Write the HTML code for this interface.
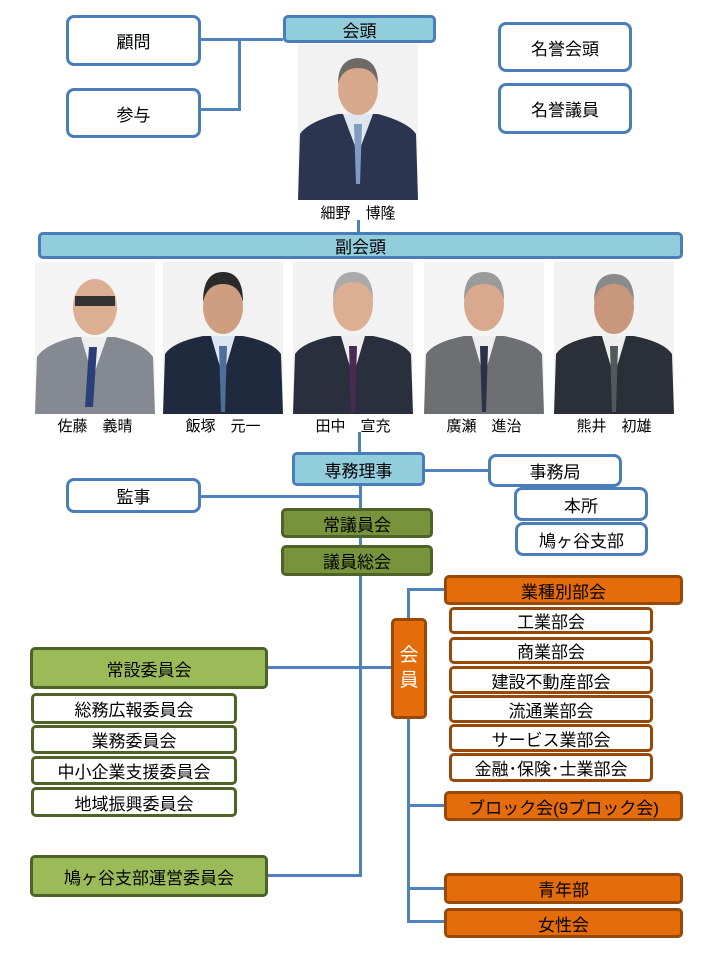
<!DOCTYPE html>
<html><head><meta charset="utf-8">
<style>
body{margin:0;width:720px;height:960px;background:#fff;position:relative;overflow:hidden;font-family:"Liberation Sans","Noto Sans CJK JP",sans-serif;}
.b{position:absolute;box-sizing:border-box;display:flex;align-items:center;justify-content:center;font-size:17px;color:#000;border-radius:5px;white-space:nowrap;}
.w{border:3px solid #4a7ebb;background:#fff;border-radius:8px;}
.lb{border:3px solid #4a7ebb;background:#92cddc;}
.dg{border:3px solid #4f6228;background:#77933c;}
.lg{border:3px solid #4f6228;background:#9bbb59;}
.gw{border:3px solid #4f6228;background:#fff;}
.or{border:3px solid #984807;background:#e46c0a;}
.ow{border:3px solid #984807;background:#fff;}
.l{position:absolute;background:#4f81bd;}
.n{position:absolute;font-size:15px;text-align:center;width:120px;}
svg.p{position:absolute;}
</style></head><body>
<div class="l" style="left:200px;top:38px;width:83px;height:3px"></div>
<div class="l" style="left:238px;top:38px;width:3px;height:73px"></div>
<div class="l" style="left:200px;top:108px;width:40px;height:3px"></div>
<div class="l" style="left:357px;top:220px;width:3px;height:14px"></div>
<div class="l" style="left:358px;top:432px;width:3px;height:24px"></div>
<div class="l" style="left:359px;top:485px;width:3px;height:392px"></div>
<div class="l" style="left:424px;top:469px;width:70px;height:3px"></div>
<div class="l" style="left:200px;top:495px;width:161px;height:3px"></div>
<div class="l" style="left:267px;top:666px;width:126px;height:3px"></div>
<div class="l" style="left:267px;top:874px;width:94px;height:3px"></div>
<div class="l" style="left:407px;top:588px;width:3px;height:335px"></div>
<div class="l" style="left:407px;top:588px;width:38px;height:3px"></div>
<div class="l" style="left:407px;top:804px;width:38px;height:3px"></div>
<div class="l" style="left:407px;top:887px;width:38px;height:3px"></div>
<div class="l" style="left:407px;top:920px;width:38px;height:3px"></div>

<div class="b w" style="left:66px;top:15px;width:135px;height:51px">顧問</div>
<div class="b w" style="left:66px;top:88px;width:135px;height:50px">参与</div>
<div class="b lb" style="left:283px;top:15px;width:153px;height:28px">会頭</div>
<div class="b w" style="left:498px;top:22px;width:134px;height:50px">名誉会頭</div>
<div class="b w" style="left:498px;top:83px;width:134px;height:51px">名誉議員</div>

<svg class="p" style="left:298px;top:44px" width="120" height="156" viewBox="0 0 120 156">
<rect width="120" height="156" fill="#f2f2f2"/>
<path d="M0 156 L2 90 Q10 78 40 70 L80 70 Q110 78 118 90 L120 156Z" fill="#2b3550"/>
<path d="M45 70 L60 110 L75 70Z" fill="#dfe6ee"/>
<path d="M56 80 L64 80 L62 140 L58 140Z" fill="#7f9cc4"/>
<ellipse cx="60" cy="45" rx="20" ry="26" fill="#d7a88b"/>
<path d="M40 40 Q40 15 60 14 Q80 15 80 40 Q76 24 60 24 Q44 24 40 40Z" fill="#6d6a68"/>
</svg>
<div class="n" style="left:298px;top:202px">細野　博隆</div>

<div class="b lb" style="left:38px;top:232px;width:645px;height:27px">副会頭</div>

<svg class="p" style="left:35px;top:262px" width="120" height="152" viewBox="0 0 120 152"><rect width="120" height="152" fill="#f4f4f4"/><path d="M0 152 L2 95 Q10 82 40 75 L80 75 Q110 82 118 95 L120 152Z" fill="#858a92"/><path d="M46 75 L58 115 L72 75Z" fill="#eee"/><path d="M54 85 L62 85 L58 145 L50 145Z" fill="#2b3f78"/><ellipse cx="60" cy="45" rx="22" ry="28" fill="#dcae92"/><rect x="40" y="34" width="40" height="10" fill="#333"/></svg>
<svg class="p" style="left:163px;top:262px" width="120" height="152" viewBox="0 0 120 152"><rect width="120" height="152" fill="#f2f2f2"/><path d="M0 152 L2 92 Q10 80 40 74 L80 74 Q110 80 118 92 L120 152Z" fill="#1f2a3e"/><path d="M48 74 L60 115 L72 74Z" fill="#dde6f0"/><path d="M56 84 L64 84 L62 150 L58 150Z" fill="#4e6e9c"/><ellipse cx="60" cy="45" rx="20" ry="27" fill="#cf9d80"/><path d="M40 40 Q40 10 60 10 Q80 10 80 40 Q76 22 60 22 Q44 22 40 40Z" fill="#2a2a2a"/></svg>
<svg class="p" style="left:293px;top:262px" width="120" height="152" viewBox="0 0 120 152"><rect width="120" height="152" fill="#f2f2f2"/><path d="M0 152 L2 92 Q10 80 40 74 L80 74 Q110 80 118 92 L120 152Z" fill="#2a2f3e"/><path d="M48 74 L60 115 L72 74Z" fill="#eee"/><path d="M56 84 L64 84 L62 150 L58 150Z" fill="#4a2a55"/><ellipse cx="60" cy="42" rx="20" ry="27" fill="#dcae92"/><path d="M40 38 Q40 10 60 10 Q80 10 80 38 Q76 20 60 20 Q44 20 40 38Z" fill="#aaa"/></svg>
<svg class="p" style="left:424px;top:262px" width="120" height="152" viewBox="0 0 120 152"><rect width="120" height="152" fill="#f4f4f4"/><path d="M0 152 L2 92 Q10 80 40 74 L80 74 Q110 80 118 92 L120 152Z" fill="#6d6f72"/><path d="M48 74 L60 115 L72 74Z" fill="#eee"/><path d="M56 84 L64 84 L62 150 L58 150Z" fill="#2b3148"/><ellipse cx="60" cy="42" rx="20" ry="27" fill="#d9a98d"/><path d="M40 38 Q40 10 60 10 Q80 10 80 38 Q76 22 60 22 Q44 22 40 38Z" fill="#9a9a9a"/></svg>
<svg class="p" style="left:554px;top:262px" width="120" height="152" viewBox="0 0 120 152"><rect width="120" height="152" fill="#f2f2f2"/><path d="M0 152 L2 92 Q10 80 40 74 L80 74 Q110 80 118 92 L120 152Z" fill="#2b2f38"/><path d="M48 74 L60 115 L72 74Z" fill="#eee"/><path d="M56 84 L64 84 L62 150 L58 150Z" fill="#4f5a5a"/><ellipse cx="60" cy="45" rx="20" ry="27" fill="#c9987c"/><path d="M40 40 Q40 12 60 12 Q80 12 80 40 Q76 22 60 22 Q44 22 40 40Z" fill="#8a8a8a"/></svg>
<div class="n" style="left:35px;top:415px">佐藤　義晴</div>
<div class="n" style="left:163px;top:415px">飯塚　元一</div>
<div class="n" style="left:293px;top:415px">田中　宣充</div>
<div class="n" style="left:424px;top:415px">廣瀬　進治</div>
<div class="n" style="left:554px;top:415px">熊井　初雄</div>

<div class="b lb" style="left:292px;top:452px;width:133px;height:34px">専務理事</div>
<div class="b w" style="left:488px;top:454px;width:134px;height:33px">事務局</div>
<div class="b w" style="left:514px;top:487px;width:134px;height:34px">本所</div>
<div class="b w" style="left:515px;top:522px;width:133px;height:34px">鳩ヶ谷支部</div>
<div class="b w" style="left:66px;top:478px;width:135px;height:35px">監事</div>
<div class="b dg" style="left:281px;top:508px;width:152px;height:30px">常議員会</div>
<div class="b dg" style="left:281px;top:545px;width:152px;height:31px">議員総会</div>

<div class="b lg" style="left:30px;top:647px;width:238px;height:42px">常設委員会</div>
<div class="b gw" style="left:31px;top:693px;width:206px;height:31px">総務広報委員会</div>
<div class="b gw" style="left:31px;top:725px;width:206px;height:29px">業務委員会</div>
<div class="b gw" style="left:31px;top:756px;width:206px;height:29px">中小企業支援委員会</div>
<div class="b gw" style="left:31px;top:787px;width:206px;height:30px">地域振興委員会</div>
<div class="b lg" style="left:30px;top:855px;width:238px;height:42px">鳩ヶ谷支部運営委員会</div>

<div class="b or" style="left:391px;top:618px;width:36px;height:101px;flex-direction:column;color:#fff;font-size:19px;line-height:1.3">会<br>員</div>
<div class="b or" style="left:444px;top:575px;width:239px;height:30px">業種別部会</div>
<div class="b ow" style="left:449px;top:607px;width:204px;height:27px">工業部会</div>
<div class="b ow" style="left:449px;top:637px;width:204px;height:27px">商業部会</div>
<div class="b ow" style="left:449px;top:666px;width:204px;height:28px">建設不動産部会</div>
<div class="b ow" style="left:449px;top:695px;width:204px;height:28px">流通業部会</div>
<div class="b ow" style="left:449px;top:724px;width:204px;height:28px">サービス業部会</div>
<div class="b ow" style="left:449px;top:753px;width:204px;height:29px">金融･保険･士業部会</div>
<div class="b or" style="left:444px;top:791px;width:239px;height:30px">ブロック会(9ブロック会)</div>
<div class="b or" style="left:444px;top:873px;width:239px;height:31px">青年部</div>
<div class="b or" style="left:444px;top:908px;width:239px;height:30px">女性会</div>
</body></html>
